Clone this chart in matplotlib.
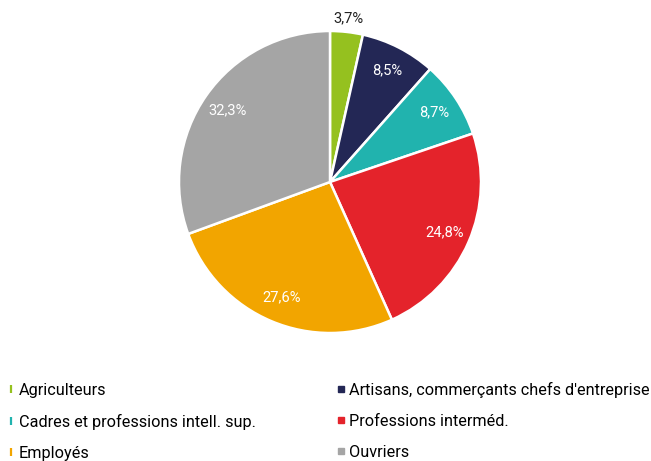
import numpy as np
import matplotlib.pyplot as plt
from matplotlib.lines import Line2D

plt.rcParams['font.family'] = ['Roboto', 'DejaVu Sans']

categories = ['Agriculteurs', 'Artisans, commerçants chefs d\'entreprise',
              'Cadres et professions intell. sup.', 'Professions interméd.',
              'Employés', 'Ouvriers']
values = [3.7, 8.5, 8.7, 24.8, 27.6, 32.3]
labels = ['3,7%', '8,5%', '8,7%', '24,8%', '27,6%', '32,3%']
colors = ['#95C11F', '#232755', '#21B3AE', '#E4232B', '#F2A500', '#A5A5A5']

W, H = 651, 461
fig = plt.figure(figsize=(W / 100, H / 100), dpi=100)
cx, cy, r = 330, 182, 151
ax = fig.add_axes([(cx - r) / W, (H - cy - r) / H, 2 * r / W, 2 * r / H])

wedges, _ = ax.pie(values, colors=colors, startangle=90, counterclock=False,
                   wedgeprops=dict(edgecolor='white', linewidth=1.8))
ax.set_xlim(-1, 1)
ax.set_ylim(-1, 1)
ax.set_aspect('equal')
ax.axis('off')

# etichette percentuali
for w, lab, v in zip(wedges, labels, values):
    ang = np.deg2rad((w.theta1 + w.theta2) / 2)
    if v < 5:
        d, col = 1.09, '#222222'
    else:
        d, col = 0.83, 'white'
    ax.text(d * np.cos(ang), d * np.sin(ang), lab, ha='center', va='center',
            color=col, fontsize=10.6)

# legenda: colonna sinistra con barrette, destra con quadrati
order = [0, 2, 4, 1, 3, 5]
handles = []
for i in order:
    if i in (0, 2, 4):
        h = Line2D([], [], linestyle='none', marker='|', markersize=6,
                   markeredgewidth=1.6, color=colors[i])
    else:
        h = Line2D([], [], linestyle='none', marker='s', markersize=5,
                   color=colors[i])
    handles.append(h)
fig.legend(handles, [categories[i] for i in order], ncol=2, loc='upper left',
           bbox_to_anchor=(-0.002, 0.189), frameon=False, fontsize=11.7,
           handlelength=0.5, handletextpad=0.25, columnspacing=5.0,
           labelspacing=0.98, borderaxespad=0, borderpad=0.5)

fig.savefig('out.png', dpi=100)
